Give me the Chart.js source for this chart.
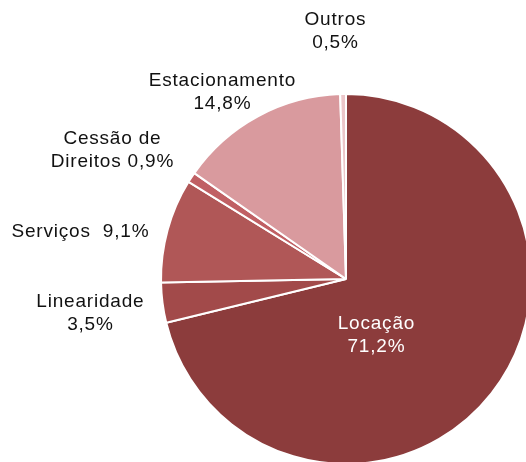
<!DOCTYPE html>
<html>
<head>
<meta charset="utf-8">
<script src="https://cdn.jsdelivr.net/npm/chart.js@4.4.0/dist/chart.umd.min.js"></script>
<style>
  html, body { margin: 0; padding: 0; background: #fff; overflow: hidden; width: 526px; height: 462px; }
  #wrap { position: absolute; left: 0; top: 0; width: 720px; height: 560px; }
</style>
</head>
<body>
<div id="wrap"><canvas id="pie" width="720" height="560"></canvas></div>
<script>
// Revenue split (%)
const categories = ['Locação', 'Linearidade', 'Serviços', 'Cessão de Direitos', 'Estacionamento', 'Outros'];
const shares = [71.2, 3.5, 9.1, 0.9, 14.8, 0.5];
const sliceColors = ['#8c3c3c', '#a24a4a', '#b05757', '#c06064', '#d99a9e', '#ecc6c9'];

// label text lines, and where each label sits (page pixels)
const labelLines = [
    ['Locação', '71,2%'],
    ['Linearidade', '3,5%'],
    ['Serviços  9,1%'],
    ['Cessão de', 'Direitos 0,9%'],
    ['Estacionamento', '14,8%'],
    ['Outros', '0,5%']
];
const labelPos = [[376, 324], [90, 302], [80, 232], [112, 139], [222, 81], [335, 20]];
const labelColors = ['#ffffff', '#111111', '#111111', '#111111', '#111111', '#111111'];

const pieLabels = {
    id: 'pieLabels',
    afterDraw(chart) {
        const ctx = chart.ctx;
        ctx.save();
        ctx.font = '19px "Liberation Sans", Arial, sans-serif';
        ctx.letterSpacing = '0.8px';
        ctx.textAlign = 'center';
        ctx.textBaseline = 'middle';
        labelLines.forEach((lines, i) => {
            ctx.fillStyle = labelColors[i];
            lines.forEach((t, j) => {
                ctx.fillText(t, labelPos[i][0] + 0.4, labelPos[i][1] + j * 23);
            });
        });
        ctx.restore();
    }
};

new Chart(document.getElementById('pie'), {
    type: 'pie',
    data: {
        labels: categories,
        datasets: [{
            data: shares,
            backgroundColor: sliceColors,
            borderColor: '#ffffff',
            borderWidth: 2,
            hoverOffset: 0
        }]
    },
    options: {
        responsive: false,
        animation: false,
        layout: { padding: { left: 160, top: 93, right: 188, bottom: 95 } },
        plugins: {
            legend: { display: false },
            tooltip: { enabled: false }
        }
    },
    plugins: [pieLabels]
});
</script>
</body>
</html>
